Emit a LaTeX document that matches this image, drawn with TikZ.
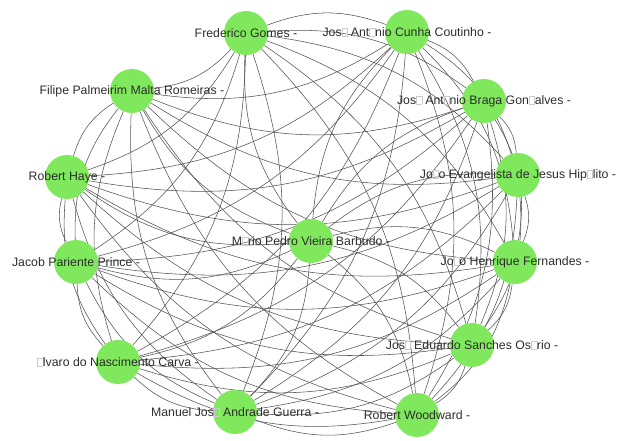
\documentclass[tikz,border=0pt]{standalone}
\usepackage{fontspec}
\setmainfont{Liberation Sans}
\usepackage{xcolor}
\usepackage{tikz}
\pgfdeclarelayer{bg}
\pgfsetlayers{bg,main}
\definecolor{nodegreen}{RGB}{128,232,92}
\definecolor{txtgray}{RGB}{45,45,45}
\newcommand{\nog}{{\color{black!20}\fboxsep=0pt\fboxrule=0.4pt\fbox{\rule{0pt}{8pt}\hspace{5pt}}}}

\begin{document}
\begin{tikzpicture}[x=1pt,y=-1pt,
                    person/.style={circle,fill=nodegreen,minimum size=44pt,inner sep=0pt},
                    every label/.style={font=\fontsize{12.3}{14}\selectfont,text=txtgray,inner sep=0pt},
                    link/.style={draw=black!68,line width=0.55pt,bend left=20}]
  \useasboundingbox (0,0) rectangle (625,441);
  % outer nodes
  \node[person,label=center:{Frederico Gomes -}] (fg) at (246,33) {};
  \node[person,label=center:{Jos\nog{} Ant\nog{}nio Cunha Coutinho -}] (jacc) at (407,32) {};
  \node[person,label=center:{Jos\nog{} Ant\nog{}nio Braga Gon\nog{}alves -}] (jabg) at (484,101) {};
  \node[person,label=center:{Jo\nog{}o Evangelista de Jesus Hip\nog{}lito -}] (jejh) at (518,175) {};
  \node[person,label=center:{Jo\nog{}o Henrique Fernandes -}] (jhf) at (515,262) {};
  \node[person,label=center:{Jos\nog{} Eduardo Sanches Os\nog{}rio -}] (jeso) at (472,345) {};
  \node[person,label=center:{Robert Woodward -}] (rw) at (417,415) {};
  \node[person,label=center:{Manuel Jos\nog{} Andrade Guerra -}] (mjag) at (235,412) {};
  \node[person,label=center:{\nog{}lvaro do Nascimento Carva -}] (anc) at (118,362) {};
  \node[person,label=center:{Jacob Pariente Prince -}] (jpp) at (76,262) {};
  \node[person,label=center:{Robert Haye -}] (rh) at (67,177) {};
  \node[person,label=center:{Filipe Palmeirim Malta Romeiras -}] (fpmr) at (132,91) {};
  % centre node
  \node[person,label=center:{M\nog{}rio Pedro Vieira Barbudo -}] (mpvb) at (311,241) {};
  % edges
  \begin{pgfonlayer}{bg}
  \foreach \t in {jacc,jabg,jejh,jhf,jeso,rw,mjag,anc,jpp,rh,fpmr} \draw[link] (fg) to (\t);
  \foreach \t in {jabg,jejh,jhf,jeso,rw,mjag,anc,jpp,rh,fpmr} \draw[link] (jacc) to (\t);
  \foreach \t in {jejh,jhf,jeso,rw,mjag,anc,jpp,rh,fpmr} \draw[link] (jabg) to (\t);
  \foreach \t in {jhf,jeso,rw,mjag,anc,jpp,rh,fpmr} \draw[link] (jejh) to (\t);
  \foreach \t in {jeso,rw,mjag,anc,jpp,rh,fpmr} \draw[link] (jhf) to (\t);
  \foreach \t in {rw,mjag,anc,jpp,rh,fpmr} \draw[link] (jeso) to (\t);
  \foreach \t in {mjag,anc,jpp,rh,fpmr} \draw[link] (rw) to (\t);
  \foreach \t in {anc,jpp,rh,fpmr} \draw[link] (mjag) to (\t);
  \foreach \t in {jpp,rh,fpmr} \draw[link] (anc) to (\t);
  \foreach \t in {rh,fpmr} \draw[link] (jpp) to (\t);
  \draw[link] (rh) to (fpmr);
  \foreach \t in {fg,jacc,jabg,jejh,jhf,jeso,rw,mjag,anc,jpp,rh,fpmr} \draw[link] (mpvb) to (\t);
  \end{pgfonlayer}
\end{tikzpicture}
\end{document}
